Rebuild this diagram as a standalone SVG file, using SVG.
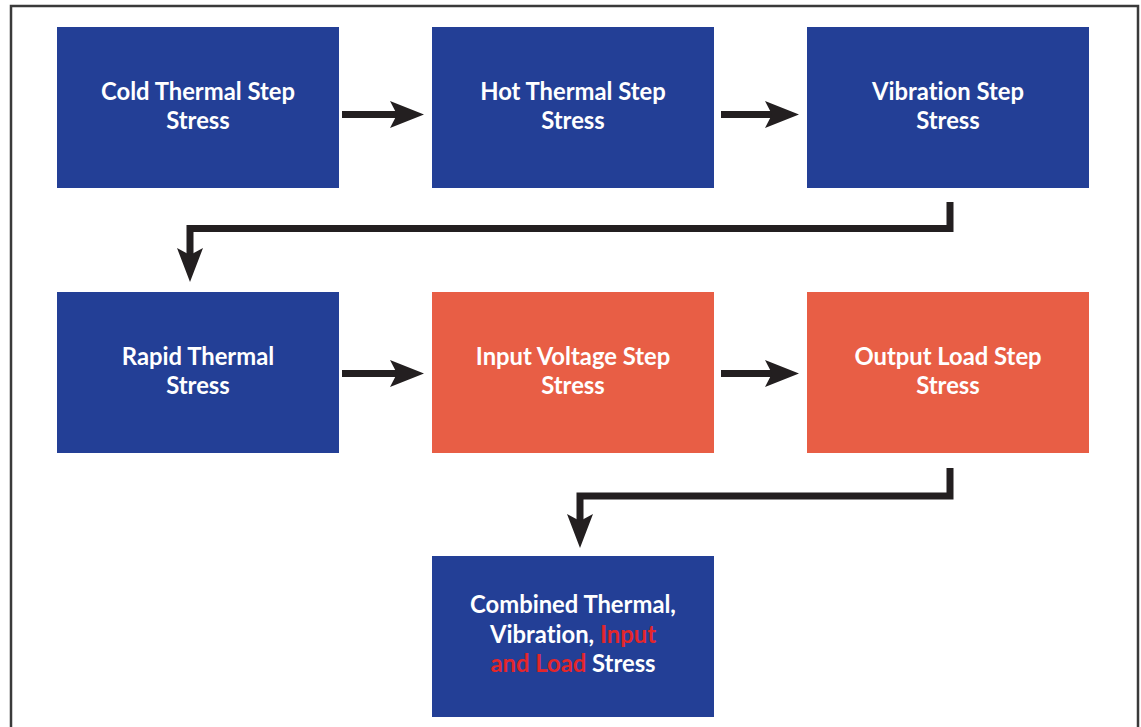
<svg xmlns="http://www.w3.org/2000/svg" width="1141" height="727" viewBox="0 0 1141 727">
<style>
.b{fill:#233F96}
.o{fill:#E85E45}
.t{font-family:Lato,"Open Sans","Liberation Sans",sans-serif;font-weight:bold;font-size:23.8px;fill:#FFFFFF;text-anchor:middle;font-variant-ligatures:none}
.r{fill:#E3262B}
.c{fill:none;stroke:#231F20;stroke-width:7}
.h{fill:#231F20}
</style>
<rect x="0" y="0" width="1141" height="727" fill="#FFFFFF"/>
<path d="M11 727 V6 H1138 V727" fill="none" stroke="#3a3a3a" stroke-width="2.5"/>
<g id="n1"><rect class="b" x="57" y="27" width="282" height="161"/><text class="t" x="198" y="100">Cold Thermal Step</text><text class="t" x="198" y="129">Stress</text></g>
<g id="n2"><rect class="b" x="432" y="27" width="282" height="161"/><text class="t" x="573" y="100">Hot Thermal Step</text><text class="t" x="573" y="129">Stress</text></g>
<g id="n3"><rect class="b" x="807" y="27" width="282" height="161"/><text class="t" x="948" y="100">Vibration Step</text><text class="t" x="948" y="129">Stress</text></g>
<g id="n4"><rect class="b" x="57" y="292" width="282" height="161"/><text class="t" x="198" y="365">Rapid Thermal</text><text class="t" x="198" y="394">Stress</text></g>
<g id="n5"><rect class="o" x="432" y="292" width="282" height="161"/><text class="t" x="573" y="365">Input Voltage Step</text><text class="t" x="573" y="394">Stress</text></g>
<g id="n6"><rect class="o" x="807" y="292" width="282" height="161"/><text class="t" x="948" y="365">Output Load Step</text><text class="t" x="948" y="394">Stress</text></g>
<g id="n7"><rect class="b" x="432" y="556" width="282" height="161"/><text class="t" x="573" y="613">Combined Thermal,</text><text class="t" x="573" y="643">Vibration, <tspan class="r">Input</tspan></text><text class="t" x="573" y="672"><tspan class="r">and Load</tspan> Stress</text></g>
<g id="connectors">
<path class="c" d="M342 114.5 H398"/>
<polygon class="h" points="424,114.5 390,101 397,114.5 390,128"/>
<path class="c" d="M721 114.5 H773"/>
<polygon class="h" points="799,114.5 765,101 772,114.5 765,128"/>
<path class="c" d="M342 373.5 H398"/>
<polygon class="h" points="424,373.5 390,360 397,373.5 390,387"/>
<path class="c" d="M721 373.5 H773"/>
<polygon class="h" points="799,373.5 765,360 772,373.5 765,387"/>
<path class="c" d="M950 202 V228.5 H190 V258"/>
<polygon class="h" points="190,282 177,248 190,255 203,248"/>
<path class="c" d="M950 468 V496 H580 V522"/>
<polygon class="h" points="580,548 567,514 580,521 593,514"/>
</g>
</svg>
